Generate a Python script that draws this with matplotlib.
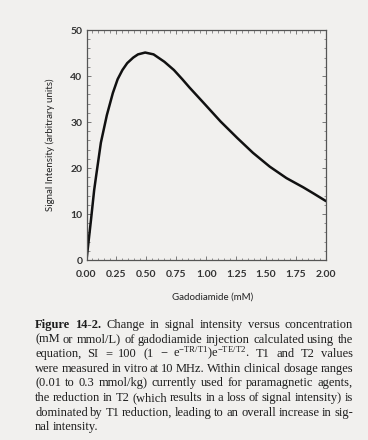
import matplotlib
matplotlib.use('Agg')
import matplotlib.pyplot as plt
from matplotlib.ticker import MultipleLocator

# curve
conc = [0.0, 0.037, 0.064, 0.08, 0.12, 0.17, 0.22, 0.26, 0.30, 0.34, 0.39, 0.43,
        0.49, 0.56, 0.65, 0.73, 0.80, 0.86, 0.98, 1.12, 1.26, 1.39, 1.53,
        1.67, 1.81, 1.90, 2.0]
signal = [0.0, 8.6, 15.2, 18.2, 25.5, 31.5, 36.3, 39.3, 41.3, 42.8, 44.0, 44.7,
          45.1, 44.7, 43.1, 41.3, 39.3, 37.5, 34.1, 30.1, 26.5, 23.3, 20.3,
          17.8, 15.8, 14.4, 12.8]

x_ticks = [0.0, 0.25, 0.5, 0.75, 1.0, 1.25, 1.5, 1.75, 2.0]
y_ticks = [0, 10, 20, 30, 40, 50]

# caption, one string per printed line
caption = [
    "**Figure **14-2.** Change in signal intensity versus concentration",
    "(mM or mmol/L) of gadodiamide injection calculated using the",
    "equation, SI = 100 (1 \u2212 e$^{\\mathrm{-TR/T1}}$)e$^{\\mathrm{-TE/T2}}$. T1 and T2 values",
    "were measured in vitro at 10 MHz. Within clinical dosage ranges",
    "(0.01 to 0.3 mmol/kg) currently used for paramagnetic agents,",
    "the reduction in T2 (which results in a loss of signal intensity) is",
    "dominated by T1 reduction, leading to an overall increase in sig-",
    "nal intensity.",
]

bg = '#f1f0ee'
W, H = 368, 440

plt.rcParams['mathtext.fontset'] = 'custom'
plt.rcParams['mathtext.rm'] = 'Liberation Serif'
plt.rcParams['mathtext.it'] = 'Liberation Serif:italic'

fig = plt.figure(figsize=(W / 100, H / 100), dpi=100, facecolor=bg)
ax = fig.add_axes([86.5 / W, 1 - 260 / H, (326 - 86.5) / W, (260 - 30) / H])
ax.set_facecolor(bg)

ax.plot(conc, signal, color='#111111', lw=1.8, solid_joinstyle='round', solid_capstyle='round')

ax.set_xlim(0, 2)
ax.set_ylim(0, 50)
ax.set_xticks(x_ticks)
ax.set_xticklabels(['%.2f' % t for t in x_ticks])
ax.set_yticks(y_ticks)
ax.xaxis.set_minor_locator(MultipleLocator(0.05))
ax.yaxis.set_minor_locator(MultipleLocator(2))
ax.tick_params(which='both', direction='in', top=True, right=True, colors='#666666',
               labelcolor='#333333', labelsize=7.5)
ax.tick_params(which='major', length=3, width=0.6)
ax.tick_params(which='minor', length=1.8, width=0.5)
ax.tick_params(axis='x', pad=7)
ax.tick_params(axis='y', pad=3)
for lab in ax.get_xticklabels() + ax.get_yticklabels():
    lab.set_fontfamily('Lato')
    lab.set_fontweight('bold')
for sp in ax.spines.values():
    sp.set_color('#555555')
    sp.set_linewidth(0.9)

fig.text(213 / W, 1 - 297 / H, 'Gadodiamide (mM)', ha='center', va='center',
         fontsize=7, family='Lato', color='#222222')
fig.text(50 / W, 1 - 145 / H, 'Signal Intensity (arbitrary units)', ha='center', va='center',
         rotation=90, fontsize=7, family='Lato', color='#222222')

# justified caption
renderer = fig.canvas.get_renderer()
x0, x1 = 35, 353
y_first, dy = 328, 14.6
for i, line in enumerate(caption):
    if line.startswith('**'):
        words = [('Figure', True), ('14-2.', True)]
        words += [(w, False) for w in line.split('**')[-1].split()]
    else:
        words = [(w, False) for w in line.split(' ')]
    texts = []
    for w, b in words:
        t = fig.text(0, 1 - (y_first + i * dy) / H, w, fontsize=9.0, family='Liberation Serif',
                     fontweight='bold' if b else 'normal', color='#1e1e1e',
                     va='baseline', ha='left')
        texts.append(t)
    widths = [t.get_window_extent(renderer).width for t in texts]
    if i < len(caption) - 1 and len(texts) > 1:
        gap = (x1 - x0 - sum(widths)) / (len(texts) - 1)
    else:
        gap = 2.8
    x = x0
    for t, w in zip(texts, widths):
        t.set_x(x / W)
        x += w + gap

fig.savefig('out.png', dpi=100, facecolor=bg)
